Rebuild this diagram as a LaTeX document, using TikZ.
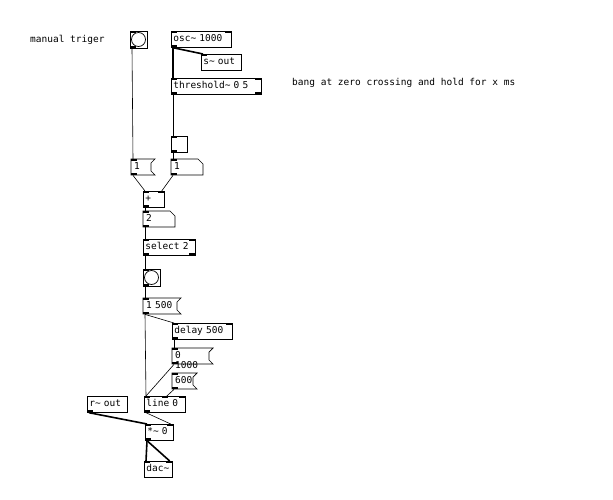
\documentclass[tikz,border=0pt]{standalone}
\usepackage{fontspec}
\setmainfont{DejaVu Sans Mono}
\begin{document}
\begin{tikzpicture}[x=1pt,y=-1pt,
  box/.style={anchor=north west,inner sep=1pt,font=\fontsize{9.5}{10}\selectfont,align=left,text height=7pt,text depth=2pt},
  obj/.style={box,draw,line width=0.7pt},
  lbl/.style={anchor=west,inner sep=0pt,font=\fontsize{9.5}{10}\selectfont},
  cn/.style={line width=0.6pt},
  sig/.style={line width=1.6pt}]
\useasboundingbox[fill=white] (0,0) rectangle (613,500);
\newcommand\inl[1]{\fill #1 rectangle ++(6,2);}
\newcommand\inr[1]{\fill #1 rectangle ++(-6,2);}
\newcommand\outl[1]{\fill #1 rectangle ++(6,-2);}
\newcommand\outr[1]{\fill #1 rectangle ++(-6,-2);}
% message box: name,x,y,w,h,text
\newcommand\pdmsg[6]{\node[box,minimum width=#4pt,minimum height=#5pt,text width={#4pt-6pt}] (#1) at (#2,#3) {#6};
  \draw[line width=0.7pt] (#2,#3) -- ({#2+#4+4},#3) -- ({#2+#4},{#3+4}) -- ({#2+#4},{#3+#5-4}) -- ({#2+#4+4},{#3+#5}) -- (#2,{#3+#5}) -- cycle;
  \inl{(#2,#3)} \outl{(#2,{#3+#5})}}
% atom box
\newcommand\pdatom[6]{\node[box,minimum width=#4pt,minimum height=#5pt,text width={#4pt-6pt}] (#1) at (#2,#3) {#6};
  \draw[line width=0.7pt] (#2,#3) -- ({#2+#4-5},#3) -- ({#2+#4},{#3+5}) -- ({#2+#4},{#3+#5}) -- (#2,{#3+#5}) -- cycle;
  \inl{(#2,#3)} \outl{(#2,{#3+#5})}}
\newcommand\pdobj[6]{\node[obj,minimum width=#4pt,minimum height=#5pt,text width={#4pt-4pt}] (#1) at (#2,#3) {#6};}
\newcommand\pdbang[4]{\node[obj,minimum width=#4pt,minimum height=#4pt] (#1) at (#2,#3) {};
  \draw[line width=0.7pt] ({#2+#4/2},{#3+#4/2}) circle ({#4/2-1.5});
  \inl{(#2,#3)} \outl{(#2,{#3+#4})}}

\node[lbl] (t1) at (30,40) {manual triger};
\node[lbl] (t2) at (292,83) {bang at zero crossing and hold for x ms};

\pdbang{b1}{130}{31}{17}
\pdobj{osc}{171}{31}{60}{16}{osc\textasciitilde{} 1000}
\inl{(171,31)} \inr{(231,31)} \outl{(171,47)}
\pdobj{sout}{201}{54}{40}{16}{s\textasciitilde{} out}
\inl{(201,54)}
\pdobj{thr}{171}{78}{90}{16}{threshold\textasciitilde{} 0 5}
\inl{(171,78)} \inr{(261,78)} \outl{(171,94)} \outr{(261,94)}
\node[obj,minimum width=16pt,minimum height=16pt] (sq) at (171,136) {};
\inl{(171,136)} \outl{(171,152)}
\pdmsg{m1}{131}{159}{20}{16}{1}
\pdatom{a1}{171}{159}{32}{16}{1}
\pdobj{plus}{143}{191}{21}{16}{+}
\inl{(143,191)} \inr{(164,191)} \outl{(143,207)}
\pdatom{a2}{143}{211}{32}{16}{2}
\pdobj{sel}{143}{239}{52}{16}{select 2}
\inl{(143,239)} \inr{(195,239)} \outl{(143,255)} \outr{(195,255)}
\pdbang{b2}{143}{269}{17}
\pdmsg{m500}{143}{298}{34}{16}{1 500}
\pdobj{del}{172}{323}{60}{16}{delay 500}
\inl{(172,323)} \inr{(232,323)} \outl{(172,339)}
\pdmsg{m1000}{172}{348}{37}{16}{0 1000}
\pdmsg{m600}{172}{373}{21}{16}{600}
\pdobj{line}{144}{396}{41}{16}{line 0}
\inl{(144,396)} \inl{(161.5,396)} \inr{(185,396)} \outl{(144,412)}
\pdobj{rout}{87}{396}{40}{16}{r\textasciitilde{} out}
\outl{(87,412)}
\pdobj{mul}{145}{424}{28}{16}{*\textasciitilde{} 0}
\inl{(145,424)} \inr{(173,424)} \outl{(145,440)}
\pdobj{dac}{144}{461}{28}{16}{dac\textasciitilde}
\inl{(144,461)} \inr{(172,461)}

% connections
\draw[cn] (b1.south west)++(2,0) -- ([xshift=2pt]m1.north west);
\draw[sig] ([xshift=2pt]osc.south west) -- ([xshift=2pt]sout.north west);
\draw[sig] ([xshift=2pt]osc.south west) -- ([xshift=2pt]thr.north west);
\draw[cn] ([xshift=2pt]thr.south west) -- ([xshift=2pt]sq.north west);
\draw[cn] ([xshift=2pt]sq.south west) -- ([xshift=2pt]a1.north west);
\draw[cn] ([xshift=2pt]m1.south west) -- ([xshift=2pt]plus.north west);
\draw[cn] ([xshift=2pt]a1.south west) -- ([xshift=-3pt]plus.north east);
\draw[cn] ([xshift=2pt]plus.south west) -- ([xshift=2pt]a2.north west);
\draw[cn] ([xshift=2pt]a2.south west) -- ([xshift=2pt]sel.north west);
\draw[cn] ([xshift=2pt]sel.south west) -- ([xshift=2pt]b2.north west);
\draw[cn] ([xshift=2pt]b2.south west) -- ([xshift=2pt]m500.north west);
\draw[cn] ([xshift=2pt]m500.south west) -- ([xshift=2pt]del.north west);
\draw[cn] ([xshift=2pt]m500.south west) -- ([xshift=2pt]line.north west);
\draw[cn] ([xshift=2pt]del.south west) -- ([xshift=2pt]m1000.north west);
\draw[cn] ([xshift=2pt]m1000.south west) -- ([xshift=2pt]line.north west);
\draw[cn] ([xshift=2pt]m600.south west) -- ([xshift=2pt]line.north);
\draw[cn] ([xshift=2pt]line.south west) -- ([xshift=-3pt]mul.north east);
\draw[sig] ([xshift=2pt]rout.south west) -- ([xshift=2pt]mul.north west);
\draw[sig] ([xshift=2pt]mul.south west) -- ([xshift=2pt]dac.north west);
\draw[sig] ([xshift=2pt]mul.south west) -- ([xshift=-3pt]dac.north east);
\end{tikzpicture}
\end{document}
